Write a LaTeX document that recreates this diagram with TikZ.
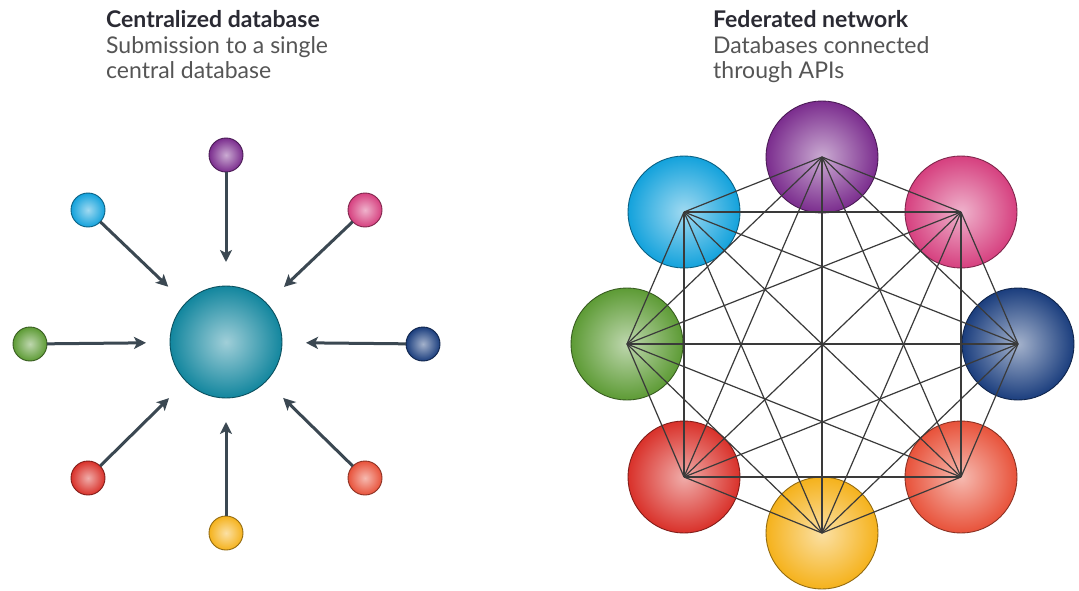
\documentclass[tikz,border=0pt]{standalone}
\usepackage{fontspec}
\setmainfont{Lato}
\usetikzlibrary{arrows.meta}

\definecolor{cPurple}{HTML}{7B2D8E}
\definecolor{cPink}{HTML}{D6407F}
\definecolor{cNavy}{HTML}{1B3E7E}
\definecolor{cOrange}{HTML}{E8523A}
\definecolor{cYellow}{HTML}{F5B21C}
\definecolor{cRed}{HTML}{D9312A}
\definecolor{cGreen}{HTML}{5D9B35}
\definecolor{cBlue}{HTML}{13A2DC}
\definecolor{cTeal}{HTML}{12869E}
\definecolor{arrowc}{HTML}{3B4852}
\definecolor{edgec}{HTML}{3A3A3A}
\definecolor{titlec}{HTML}{2A2A33}
\definecolor{subc}{HTML}{555555}

\tikzset{
  db/.style={circle, inner sep=0pt, outer sep=0pt, shading=radial,
    inner color=#1!40!white, outer color=#1, draw=#1!60!black, line width=0.9pt},
  smalldb/.style={db=#1, minimum size=34pt},
  bigdb/.style={db=#1, minimum size=112pt},
  feed/.style={draw=arrowc, line width=3pt, shorten >=24pt,
    -{Stealth[length=12pt,width=12pt,inset=3pt]}},
  link/.style={draw=edgec, line width=1.2pt},
  title/.style={anchor=base west, inner sep=0pt, font=\fontsize{23}{27}\selectfont\bfseries, text=titlec},
  subtitle/.style={anchor=base west, inner sep=0pt, font=\fontsize{23}{27}\selectfont, text=subc}
}

\begin{document}
\begin{tikzpicture}[x=1pt, y=-1pt]
  \useasboundingbox[fill=white] (0,0) rectangle (1079,591);

  % ---------- headings ----------
  \node[title]    (ltitle) at (106,28) {Centralized database};
  \node[subtitle] (lsub1)  at (106,54) {Submission to a single};
  \node[subtitle] (lsub2)  at (106,79) {central database};

  \node[title]    (rtitle) at (713,28) {Federated network};
  \node[subtitle] (rsub1)  at (713,54) {Databases connected};
  \node[subtitle] (rsub2)  at (713,79) {through APIs};

  % ---------- centralized database ----------
  \node[db=cTeal, minimum size=112pt] (cen) at (226,342) {};

  \node[smalldb=cPurple] (s1) at (226,155) {};
  \node[smalldb=cPink]   (s2) at (365,210) {};
  \node[smalldb=cNavy]   (s3) at (423,344) {};
  \node[smalldb=cOrange] (s4) at (365,478) {};
  \node[smalldb=cYellow] (s5) at (226,533) {};
  \node[smalldb=cRed]    (s6) at (88,478)  {};
  \node[smalldb=cGreen]  (s7) at (30,344)  {};
  \node[smalldb=cBlue]   (s8) at (88,210)  {};

  \foreach \k in {1,...,8} {
    \draw[feed] (s\k) -- (cen);
  }

  % ---------- federated network ----------
  \node[bigdb=cPurple] (n1) at (822,157)  {};
  \node[bigdb=cPink]   (n2) at (961,212)  {};
  \node[bigdb=cNavy]   (n3) at (1018,344) {};
  \node[bigdb=cOrange] (n4) at (961,477)  {};
  \node[bigdb=cYellow] (n5) at (822,533)  {};
  \node[bigdb=cRed]    (n6) at (684,477)  {};
  \node[bigdb=cGreen]  (n7) at (627,344)  {};
  \node[bigdb=cBlue]   (n8) at (684,212)  {};

  % every database linked to every other one
  \foreach \i in {1,...,7} {
    \pgfmathtruncatemacro{\first}{\i+1}
    \foreach \j in {\first,...,8} {
      \draw[link] (n\i.center) -- (n\j.center);
    }
  }
\end{tikzpicture}
\end{document}
